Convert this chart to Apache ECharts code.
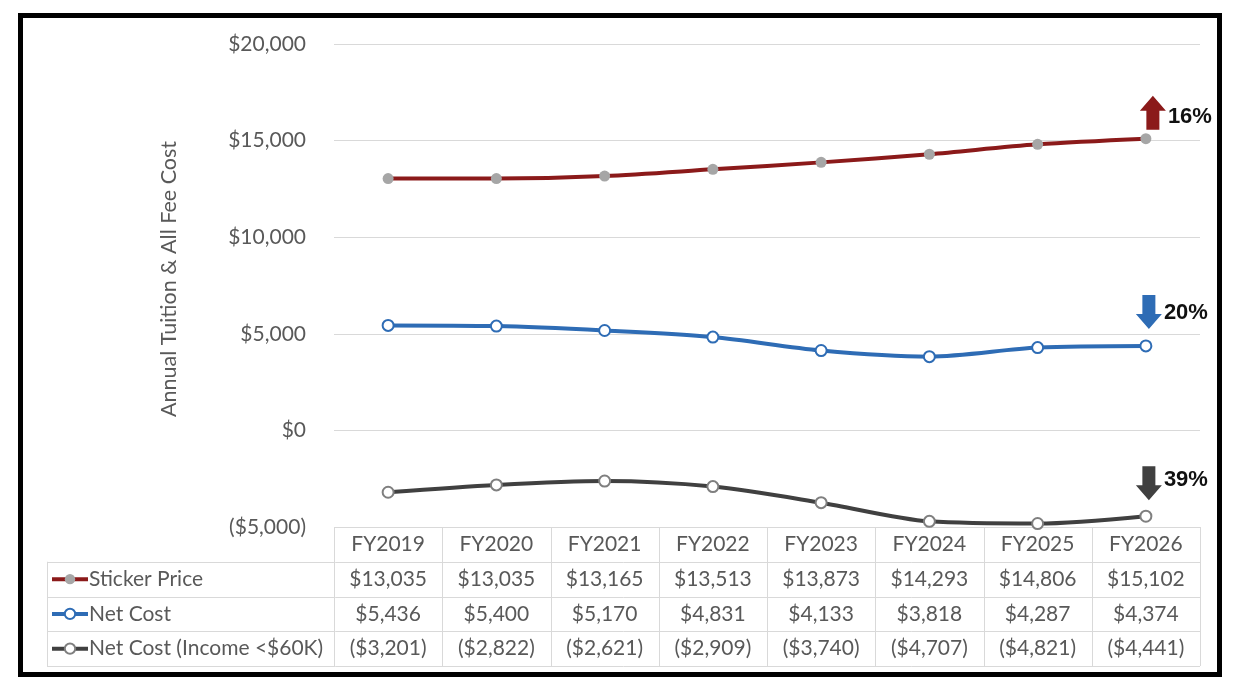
<!DOCTYPE html>
<html>
<head>
<meta charset="utf-8">
<script src="https://cdn.jsdelivr.net/npm/echarts@6/dist/echarts.min.js"></script>
<style>
html,body{margin:0;padding:0;background:#fff;}
#chart{width:1237px;height:693px;}
</style>
</head>
<body>
<div id="chart"></div>
<script>
const categories = ['FY2019', 'FY2020', 'FY2021', 'FY2022', 'FY2023', 'FY2024', 'FY2025', 'FY2026'];
const stickerPrice = [13035, 13035, 13165, 13513, 13873, 14293, 14806, 15102];
const netCost = [5436, 5400, 5170, 4831, 4133, 3818, 4287, 4374];
const netCostLowIncome = [-3201, -2822, -2621, -2909, -3740, -4707, -4821, -4441];
const seriesNames = ['Sticker Price', 'Net Cost', 'Net Cost (Income <$60K)'];
const changeLabels = ['16%', '20%', '39%'];
const yMin = -5000, yMax = 20000, yInterval = 5000;
const yAxisTitle = 'Annual Tuition & All Fee Cost';

function fmt(v) {
  const s = '$' + Math.abs(v).toLocaleString('en-US');
  return v < 0 ? '(' + s + ')' : s;
}

// layout
const GL = 334, GR = 1200, GT = 44, GB = 527, W = 1237, H = 693;
const ROW = 34.75, TL = 47;
const FONT = 'Lato, "Open Sans", sans-serif';
const TXT = '#595959';
const GRID = '#D9D9D9';
const RED = '#8B1A1A', BLUE = '#2E6CB5', DARK = '#404040';

const colW = (GR - GL) / categories.length;
const graphics = [];
function hline(x1, x2, y) {
  graphics.push({type: 'line', silent: true, shape: {x1: x1, y1: y, x2: x2, y2: y}, style: {stroke: GRID, lineWidth: 1}});
}
function vline(x, y1, y2) {
  graphics.push({type: 'line', silent: true, shape: {x1: x, y1: y1, x2: x, y2: y2}, style: {stroke: GRID, lineWidth: 1}});
}
hline(GL, GR, Math.round(GB) + 0.5);
for (let r = 1; r <= 4; r++) hline(TL, GR, Math.round(GB + ROW * r) + 0.5);
for (let i = 0; i <= categories.length; i++) vline(Math.round(GL + colW * i) + 0.5, GB, GB + ROW * 4);
vline(TL + 0.5, GB + ROW, GB + ROW * 4);
graphics.push({type: 'rect', silent: true, shape: {x: 20.5, y: 15.5, width: 1199, height: 659}, style: {fill: 'none', stroke: '#000', lineWidth: 5}});

const rowData = [categories, stickerPrice.map(fmt), netCost.map(fmt), netCostLowIncome.map(fmt)];
const xAxes = rowData.map((d, i) => ({
  type: 'category',
  data: d,
  position: 'bottom',
  offset: ROW * i,
  boundaryGap: true,
  axisLine: {show: false},
  axisTick: {show: false},
  splitLine: {show: false},
  axisLabel: {
    interval: 0, margin: ROW / 2, verticalAlign: 'middle',
    color: TXT, fontSize: 21, fontFamily: FONT
  }
}));

const upArrow = 'path://M13,0 L26,15 L19.5,15 L19.5,34 L6.5,34 L6.5,15 L0,15 Z';
const downArrow = 'path://M6.5,0 L19.5,0 L19.5,19 L26,19 L13,34 L0,19 L6.5,19 Z';

function arrowMark(seriesData, label, path, color, offset, labelOffset) {
  const last = seriesData.length - 1;
  return {
    silent: true,
    animation: false,
    data: [{coord: [last, seriesData[last]]}],
    symbol: path,
    symbolSize: [26, 34],
    symbolOffset: offset,
    symbolKeepAspect: false,
    itemStyle: {color: color},
    label: {
      show: true, position: 'right', distance: 2, offset: labelOffset,
      formatter: label, color: '#111', fontSize: 22, fontWeight: 'bold',
      fontFamily: '"Liberation Sans", Arial, sans-serif'
    }
  };
}

const chart = echarts.init(document.getElementById('chart'), null, {renderer: 'canvas'});
chart.setOption({
  animation: false,
  backgroundColor: '#fff',
  grid: {left: GL, right: W - GR, top: GT, bottom: H - GB, containLabel: false},
  legend: {
    orient: 'vertical',
    left: TL + 3,
    top: GB + ROW * 1.5 - 11,
    padding: 0,
    itemWidth: 36,
    itemHeight: 13,
    itemGap: ROW - 22,
    selectedMode: false,
    data: seriesNames,
    lineStyle: {width: 4},
    textStyle: {color: TXT, fontSize: 21, fontFamily: FONT, lineHeight: 22, padding: [0, 0, 0, -4]}
  },
  xAxis: xAxes,
  yAxis: {
    type: 'value',
    min: yMin, max: yMax, interval: yInterval,
    name: yAxisTitle,
    nameLocation: 'middle',
    nameRotate: 90,
    nameGap: 154,
    nameTextStyle: {color: TXT, fontSize: 21.5, fontFamily: FONT, padding: [0, 0, 0, 13]},
    axisLine: {show: false},
    axisTick: {show: false},
    splitLine: {lineStyle: {color: GRID, width: 1}},
    axisLabel: {color: TXT, fontSize: 21, fontFamily: FONT, margin: 28, formatter: fmt}
  },
  series: [
    {
      name: seriesNames[0], type: 'line', data: stickerPrice, smooth: 0.3,
      symbol: 'circle', symbolSize: 11,
      lineStyle: {color: RED, width: 4},
      itemStyle: {color: '#A6A6A6'},
      z: 3,
      markPoint: arrowMark(stickerPrice, changeLabels[0], upArrow, RED, [7, -26], [0, 4])
    },
    {
      name: seriesNames[1], type: 'line', data: netCost, smooth: 0.3,
      symbol: 'circle', symbolSize: 11,
      lineStyle: {color: BLUE, width: 4},
      itemStyle: {color: '#fff', borderColor: BLUE, borderWidth: 2},
      z: 3,
      markPoint: arrowMark(netCost, changeLabels[1], downArrow, BLUE, [3, -34], [0, 1])
    },
    {
      name: seriesNames[2], type: 'line', data: netCostLowIncome, smooth: 0.3,
      symbol: 'circle', symbolSize: 11,
      lineStyle: {color: DARK, width: 4},
      itemStyle: {color: '#fff', borderColor: '#7F7F7F', borderWidth: 2},
      z: 3,
      markPoint: arrowMark(netCostLowIncome, changeLabels[2], downArrow, DARK, [3, -33], [0, -3])
    }
  ],
  graphic: graphics
});
</script>
</body>
</html>
